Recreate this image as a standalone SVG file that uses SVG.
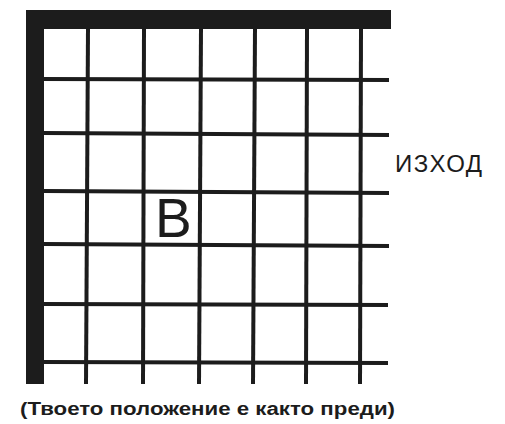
<svg xmlns="http://www.w3.org/2000/svg" width="505" height="424" viewBox="0 0 505 424">
<style>
.wall{fill:#1c1c1c}
.g line{stroke:#1c1c1c;stroke-width:4}
.t{font-family:"Liberation Sans",Arial,sans-serif;fill:#1c1c1c}
</style>
<rect width="505" height="424" fill="#ffffff"/>
<g id="walls">
<rect class="wall" x="26" y="10" width="365" height="19"/>
<rect class="wall" x="26" y="10" width="18" height="374"/>
</g>
<g id="grid" class="g">
<line x1="88" y1="28" x2="86" y2="384"/>
<line x1="144" y1="28" x2="143" y2="384"/>
<line x1="201" y1="28" x2="199" y2="384"/>
<line x1="255" y1="28" x2="253" y2="384"/>
<line x1="307" y1="28" x2="306" y2="384"/>
<line x1="361" y1="28" x2="360" y2="384"/>
<line x1="44" y1="79" x2="389" y2="80"/>
<line x1="44" y1="133" x2="389" y2="135"/>
<line x1="44" y1="191" x2="389" y2="193"/>
<line x1="44" y1="244" x2="389" y2="246"/>
<line x1="44" y1="304" x2="388" y2="305"/>
<line x1="44" y1="362" x2="388" y2="363"/>
</g>
<g id="labels">
<text class="t" x="395" y="172" font-size="24" textLength="87">ИЗХОД</text>
<text class="t" x="155" y="237" font-size="55">В</text>
<text class="t" x="20" y="415" font-size="18" font-weight="bold" textLength="375" lengthAdjust="spacingAndGlyphs">(Твоето положение е както преди)</text>
</g>
</svg>
